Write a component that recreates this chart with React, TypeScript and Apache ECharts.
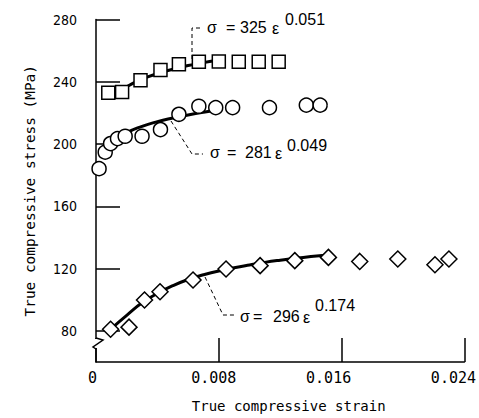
import React, { useEffect, useRef } from "react";
import * as echarts from "echarts";

// Measured data (strain, MPa)
const squareX = [0.0008, 0.0017, 0.0029, 0.0042, 0.0054, 0.0067, 0.008, 0.0093, 0.0106, 0.0119];
const squareY = [233, 233.5, 241, 247.5, 251.3, 252.8, 253, 252.8, 252.8, 252.8];

const circleX = [0.0002, 0.0006, 0.00095, 0.0014, 0.0019, 0.003, 0.0042, 0.0054, 0.0067, 0.0078, 0.0089, 0.0113, 0.0137, 0.0146];
const circleY = [184.2, 194.8, 200.3, 203.5, 205, 205, 209.3, 219.1, 224.3, 223.4, 223.4, 223.4, 225, 225];

const diamondX = [0.00095, 0.00215, 0.00316, 0.00417, 0.00632, 0.00847, 0.01069, 0.01295, 0.01514, 0.01718, 0.01966, 0.02208, 0.02299];
const diamondY = [81, 82.4, 99.8, 105.1, 112.7, 119.7, 121.9, 125.1, 127.2, 124.6, 126.2, 122.5, 126.2];

// Fitted curves
const squareFitX = [0.0014, 0.002, 0.003, 0.004, 0.005, 0.006, 0.007, 0.0078];
const squareFitY = [232.5, 236.8, 241.7, 245.2, 248.0, 250.4, 252.3, 253.7];

const circleFitX = [0.0004, 0.001, 0.002, 0.003, 0.004, 0.005, 0.006, 0.007, 0.0078];
const circleFitY = [191.5, 200.3, 207.2, 211.4, 214.4, 216.7, 218.7, 220.4, 221.5];

const diamondFitX = [0.001, 0.002, 0.003, 0.004, 0.005, 0.006, 0.007, 0.008, 0.009, 0.01, 0.011, 0.012, 0.013, 0.014, 0.0151];
const diamondFitY = [81.5, 90, 98, 104, 109, 113, 116, 118.5, 120.5, 122.3, 124, 125.4, 126.6, 127.7, 128.8];

const yTicks = [80, 120, 160, 200, 240, 280];
const xTickLabels = ["0", "0.008", "0.016", "0.024"];

const zip = (xs: number[], ys: number[]) => xs.map((x, i) => [x, ys[i]]);

const txt = (text: string, x: number, y: number, size = 16) => ({
  type: "text",
  x,
  y,
  z: 100,
  style: {
    text,
    fontSize: size,
    fontFamily: "Liberation Sans, Arial, sans-serif",
    fill: "#000",
    textAlign: "left",
    textVerticalAlign: "middle",
    verticalAlign: "middle",
  },
});

const leader = (points: number[][]) => ({
  type: "polyline",
  z: 100,
  shape: { points },
  style: { stroke: "#000", lineWidth: 1, lineDash: [4, 3], fill: null },
});

export default function App() {
  const ref = useRef<HTMLDivElement>(null);
  useEffect(() => {
    document.body.style.margin = "0";
    if (!ref.current) return;
    const chart = echarts.init(ref.current, null, { renderer: "svg" });
    const markerStyle = { color: "#fff", borderColor: "#000", borderWidth: 1.5, opacity: 1 };
    const fitLine = (data: number[][]) => ({
      type: "line",
      data,
      smooth: true,
      showSymbol: false,
      symbol: "none",
      z: 2,
      lineStyle: { color: "#000", width: 3 },
    });
    const labelFont = { fontFamily: "DejaVu Sans Mono, monospace", fontSize: 15, color: "#000" };
    const option: any = {
      animation: false,
      grid: { left: 96, right: 11, top: 19.5, bottom: 56, containLabel: false },
      xAxis: {
        type: "value",
        min: 0,
        max: 0.024,
        interval: 0.008,
        name: "True compressive strain",
        nameLocation: "middle",
        nameGap: 37,
        nameTextStyle: {
          fontFamily: "DejaVu Sans Mono, monospace",
          fontSize: 14,
          color: "#000",
          padding: [0, 0, 0, 17],
        },
        axisLine: { onZero: false, lineStyle: { color: "#000", width: 1.5 } },
        axisTick: { inside: true, length: 24, lineStyle: { color: "#000", width: 1.5 } },
        splitLine: { show: false },
        axisLabel: {
          ...labelFont,
          margin: 8,
          formatter: (v: number) => {
            const i = Math.round(v / 0.008);
            return "{s" + i + "|" + xTickLabels[i] + "}";
          },
          rich: {
            s0: { ...labelFont, padding: [0, 7, 0, 0] },
            s1: { ...labelFont, padding: [0, 10, 0, 0] },
            s2: { ...labelFont, padding: [0, 26, 0, 0] },
            s3: { ...labelFont, padding: [0, 22, 0, 0] },
          },
        },
      },
      yAxis: {
        type: "value",
        min: 60,
        max: 280,
        name: "True compressive stress (MPa)",
        nameLocation: "middle",
        nameRotate: 90,
        nameGap: 59,
        nameTextStyle: {
          fontFamily: "DejaVu Sans Mono, monospace",
          fontSize: 14.4,
          color: "#000",
        },
        axisLine: { show: true, lineStyle: { color: "#000", width: 1.5 } },
        axisTick: {
          show: true,
          inside: true,
          length: 24,
          customValues: yTicks,
          lineStyle: { color: "#000", width: 1.5 },
        },
        splitLine: { show: false },
        axisLabel: {
          customValues: yTicks,
          color: "#000",
          fontFamily: "Liberation Sans Narrow, DejaVu Sans Condensed, sans-serif",
          fontSize: 14,
          margin: 19,
        },
      },
      series: [
        fitLine(zip(squareFitX, squareFitY)),
        fitLine(zip(circleFitX, circleFitY)),
        fitLine(zip(diamondFitX, diamondFitY)),
        {
          type: "scatter",
          data: zip(squareX, squareY),
          symbol: "rect",
          symbolSize: 13,
          z: 5,
          itemStyle: markerStyle,
        },
        {
          type: "scatter",
          data: zip(circleX, circleY),
          symbol: "circle",
          symbolSize: 14,
          z: 5,
          itemStyle: markerStyle,
        },
        {
          type: "scatter",
          data: zip(diamondX, diamondY),
          symbol: "diamond",
          symbolSize: 16,
          z: 5,
          itemStyle: markerStyle,
        },
      ],
      graphic: [
        // y-axis break
        { type: "rect", z: 100, shape: { x: 94, y: 339, width: 4, height: 9 }, style: { fill: "#fff" } },
        {
          type: "polyline",
          z: 101,
          shape: { points: [[96, 338], [103, 340], [93, 347], [96, 349]] },
          style: { stroke: "#000", lineWidth: 1.5, fill: null },
        },
        leader([[200, 28], [192, 28], [192, 61]]),
        leader([[171, 121], [192, 154], [203, 154]]),
        leader([[205, 277], [223, 315], [235, 315]]),
        txt("σ", 207, 27),
        txt("=", 226, 27),
        txt("325", 240, 27),
        txt("ε", 272, 28),
        txt("0.051", 285, 19, 16),
        txt("σ", 210, 152),
        txt("=", 227, 152),
        txt("281", 245, 152),
        txt("ε", 275, 153),
        txt("0.049", 287, 145, 16),
        txt("σ", 240, 316),
        txt("=", 253, 316),
        txt("296", 273, 316),
        txt("ε", 303, 317),
        txt("0.174", 315, 305, 16),
      ],
    };
    chart.setOption(option);
    return () => chart.dispose();
  }, []);
  return <div ref={ref} style={{ width: 479, height: 418 }} />;
}
